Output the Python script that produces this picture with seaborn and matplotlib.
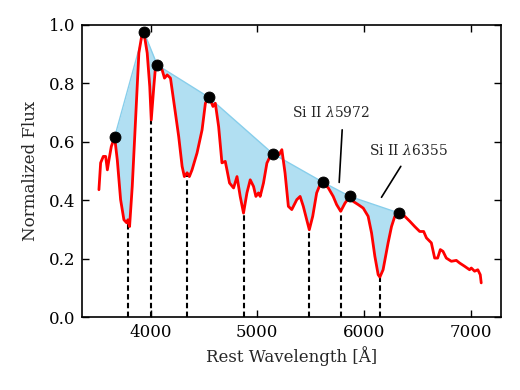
import numpy as np
import matplotlib
matplotlib.use("Agg")
import matplotlib.pyplot as plt
import seaborn as sns

# -----------------------------------
# Data
# -----------------------------------
wave = [3517, 3533, 3558, 3580, 3596, 3611, 3633, 3664, 3689, 3720, 3751, 3776,
        3788, 3804, 3829, 3860, 3891, 3922, 3937, 3969, 3993, 4007, 4031, 4047,
        4063, 4109, 4131, 4156, 4187, 4233, 4264, 4296, 4317, 4343, 4364, 4389,
        4436, 4483, 4514, 4544, 4560, 4585, 4607, 4638, 4669, 4700, 4716, 4740,
        4778, 4810, 4840, 4871, 4903, 4934, 4965, 4987, 5011, 5027, 5058, 5090,
        5120, 5146, 5183, 5204, 5230, 5260, 5291, 5323, 5370, 5401, 5431, 5463,
        5487, 5519, 5556, 5587, 5618, 5665, 5711, 5743, 5781, 5821, 5867, 5898,
        5945, 5992, 6038, 6070, 6101, 6132, 6148, 6178, 6225, 6257, 6288, 6328,
        6381, 6428, 6474, 6521, 6558, 6584, 6630, 6661, 6689, 6714, 6739, 6770,
        6817, 6864, 6895, 6941, 6988, 7004, 7035, 7065, 7088, 7097]
flux = [0.436, 0.528, 0.550, 0.550, 0.504, 0.538, 0.584, 0.616, 0.538, 0.402,
        0.333, 0.323, 0.333, 0.310, 0.447, 0.675, 0.904, 0.972, 0.977, 0.904,
        0.789, 0.675, 0.789, 0.857, 0.863, 0.846, 0.818, 0.829, 0.818, 0.699,
        0.618, 0.516, 0.481, 0.494, 0.481, 0.504, 0.562, 0.641, 0.732, 0.753,
        0.744, 0.721, 0.732, 0.652, 0.528, 0.533, 0.504, 0.459, 0.442, 0.481,
        0.413, 0.356, 0.425, 0.470, 0.447, 0.413, 0.425, 0.413, 0.459, 0.527,
        0.550, 0.559, 0.561, 0.556, 0.573, 0.493, 0.379, 0.368, 0.402, 0.413,
        0.379, 0.333, 0.299, 0.345, 0.425, 0.453, 0.461, 0.442, 0.413, 0.385,
        0.362, 0.390, 0.413, 0.396, 0.385, 0.373, 0.345, 0.288, 0.208, 0.145,
        0.137, 0.162, 0.254, 0.310, 0.345, 0.356, 0.345, 0.328, 0.310, 0.293,
        0.293, 0.271, 0.254, 0.202, 0.202, 0.231, 0.225, 0.202, 0.191, 0.194,
        0.185, 0.174, 0.162, 0.168, 0.157, 0.162, 0.145, 0.117]

# continuum peaks (black dots)
peak_wave = [3664, 3937, 4063, 4544, 5146, 5618, 5867, 6328]
peak_flux = [0.616, 0.977, 0.863, 0.753, 0.559, 0.461, 0.413, 0.356]

# absorption minima (dashed lines)
min_wave = [3788, 4007, 4340, 4871, 5487, 5781, 6148]

# line labels
labels = ["Si II $\\lambda$5972", "Si II $\\lambda$6355"]
label_pos = [(5690, 0.70), (6418, 0.57)]
line_start = [(5795, 0.641), (6344, 0.516)]
line_end = [(5767, 0.461), (6163, 0.41)]

# -----------------------------------
# Plot
# -----------------------------------
sns.set_theme(style="ticks")
plt.rcParams["font.family"] = ["DejaVu Serif"]
plt.rcParams["mathtext.fontset"] = "dejavuserif"

fig = plt.figure(figsize=(5.2, 3.9), dpi=100)
ax = fig.add_axes([0.158, 0.187, 0.805, 0.749])

wave = np.array(wave)
flux = np.array(flux)

# fill between continuum and spectrum
mask = (wave >= peak_wave[0]) & (wave <= peak_wave[-1])
cont = np.interp(wave[mask], peak_wave, peak_flux)
ax.fill_between(wave[mask], flux[mask], cont, color="skyblue", alpha=0.65, lw=0, zorder=1)
ax.plot(peak_wave, peak_flux, color="skyblue", lw=1.0, zorder=2)

# dashed lines from zero up to each minimum
min_flux = np.interp(min_wave, wave, flux)
ax.vlines(min_wave, 0, min_flux, colors="black", linestyles=(0, (2.6, 1.6)),
          lw=1.5, zorder=2)

sns.lineplot(x=wave, y=flux, color="red", lw=2, ax=ax, zorder=3, sort=False)
sns.scatterplot(x=peak_wave, y=peak_flux, color="black", s=62, edgecolor="black",
                ax=ax, zorder=4)

for lab, pos, p0, p1 in zip(labels, label_pos, line_start, line_end):
    ax.text(pos[0], pos[1], lab, ha="center", va="center", fontsize=10)
    ax.plot([p0[0], p1[0]], [p0[1], p1[1]], color="black", lw=1.2)

ax.set_xlim(3360, 7280)
ax.set_ylim(0, 1.0)
ax.set_xticks([4000, 5000, 6000, 7000])
ax.set_yticks([0.0, 0.2, 0.4, 0.6, 0.8, 1.0])
ax.tick_params(direction="in", top=True, right=True, length=5, width=1,
               labelsize=12, colors="black", pad=5)
for s in ax.spines.values():
    s.set_linewidth(1.2)
    s.set_color("black")
ax.set_xlabel("Rest Wavelength [Å]", fontsize=12)
ax.set_ylabel("Normalized Flux", fontsize=12, labelpad=7)

fig.savefig("out.png", dpi=100)
